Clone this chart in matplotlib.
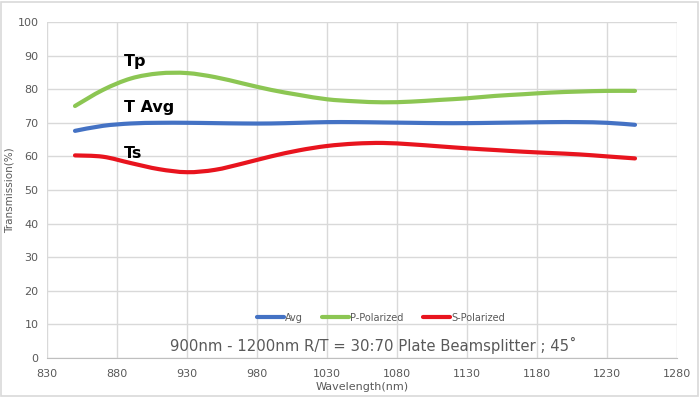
import matplotlib
matplotlib.use("Agg")
import matplotlib.pyplot as plt
from matplotlib.patches import Rectangle, PathPatch
from matplotlib.path import Path

# wavelength grid (nm), every 20 nm
wavelength = [850, 870, 890, 910, 930, 950, 970, 990, 1010, 1030, 1050,
              1070, 1090, 1110, 1130, 1150, 1170, 1190, 1210, 1230, 1250]

t_avg = [67.6, 69.1, 69.8, 70.0, 70.0, 69.9, 69.8, 69.8, 70.0, 70.2, 70.2,
         70.1, 70.0, 69.9, 69.9, 70.0, 70.1, 70.2, 70.2, 70.0, 69.4]
t_p = [75.0, 79.8, 83.2, 84.7, 84.8, 83.6, 81.7, 79.8, 78.3, 77.0, 76.4,
       76.1, 76.3, 76.8, 77.3, 78.0, 78.5, 79.0, 79.3, 79.5, 79.5]
t_s = [60.3, 59.9, 58.0, 56.2, 55.3, 56.0, 57.9, 60.0, 61.8, 63.1, 63.8,
       64.0, 63.6, 63.0, 62.4, 61.9, 61.4, 61.0, 60.6, 60.0, 59.4]

x_ticks = list(range(830, 1281, 50))
y_ticks = list(range(0, 101, 10))

gray = "#595959"
grid_c = "#d9d9d9"


def smooth_path(xs, ys):
    # Excel-style smoothed line: Catmull-Rom segments drawn as cubic Beziers
    verts = [(xs[0], ys[0])]
    codes = [Path.MOVETO]
    n = len(xs)
    for i in range(n - 1):
        x0, y0 = (xs[i - 1], ys[i - 1]) if i > 0 else (xs[i], ys[i])
        x1, y1 = xs[i], ys[i]
        x2, y2 = xs[i + 1], ys[i + 1]
        x3, y3 = (xs[i + 2], ys[i + 2]) if i + 2 < n else (x2, y2)
        verts += [(x1 + (x2 - x0) / 6, y1 + (y2 - y0) / 6),
                  (x2 - (x3 - x1) / 6, y2 - (y3 - y1) / 6),
                  (x2, y2)]
        codes += [Path.CURVE4] * 3
    return Path(verts, codes)


fig = plt.figure(figsize=(6.99, 3.98), dpi=100)
fig.patches.append(Rectangle((0.002, 0.004), 0.996, 0.992, transform=fig.transFigure,
                             fill=False, edgecolor=grid_c, lw=1.2))
ax = fig.add_axes([47 / 699, 1 - 358 / 398, 630 / 699, 336 / 398])

series = [("Avg", t_avg, "#4472c4"), ("P-Polarized", t_p, "#8cc653"),
          ("S-Polarized", t_s, "#e8141e")]
handles = []
for name, vals, col in series:
    ax.add_patch(PathPatch(smooth_path(wavelength, vals), fill=False, edgecolor=col,
                           lw=3.0, capstyle="round", joinstyle="round", zorder=3))
    h, = ax.plot([], [], color=col, lw=3.0, solid_capstyle="round", label=name)
    handles.append(h)

ax.set_xlim(830, 1280)
ax.set_ylim(0, 100)
ax.set_xticks(x_ticks)
ax.set_yticks(y_ticks)
ax.tick_params(length=0, colors=gray, labelsize=8)
ax.tick_params(axis="x", pad=8)
ax.tick_params(axis="y", pad=6)
ax.grid(True, color=grid_c, lw=1, zorder=0)
ax.set_axisbelow(True)
for s in ax.spines.values():
    s.set_visible(False)
ax.spines["bottom"].set_visible(True)
ax.spines["bottom"].set_color("#bfbfbf")

ax.set_xlabel("Wavelength(nm)", color=gray, fontsize=8, labelpad=2)
ax.set_ylabel("Transmission(%)", color=gray, fontsize=7.5, labelpad=2)

# curve labels
ax.text(885, 88.1, "Tp", fontsize=11.5, fontweight="bold", va="center", zorder=4)
ax.text(885, 74.7, "T Avg", fontsize=11.5, fontweight="bold", va="center", zorder=4)
ax.text(885, 61.0, "Ts", fontsize=11.5, fontweight="bold", va="center", zorder=4)

ax.text(1063, 3.8, "900nm - 1200nm R/T = 30:70 Plate Beamsplitter ; 45˚",
        ha="center", va="center", fontsize=10.7, color=gray)

leg = ax.legend(handles=handles, loc="center", bbox_to_anchor=(0.53, 0.12), ncol=3,
                frameon=False, fontsize=7, handlelength=2.8, handletextpad=0.1,
                columnspacing=2.0)
for t in leg.get_texts():
    t.set_color(gray)

fig.savefig("out.png", dpi=100)
